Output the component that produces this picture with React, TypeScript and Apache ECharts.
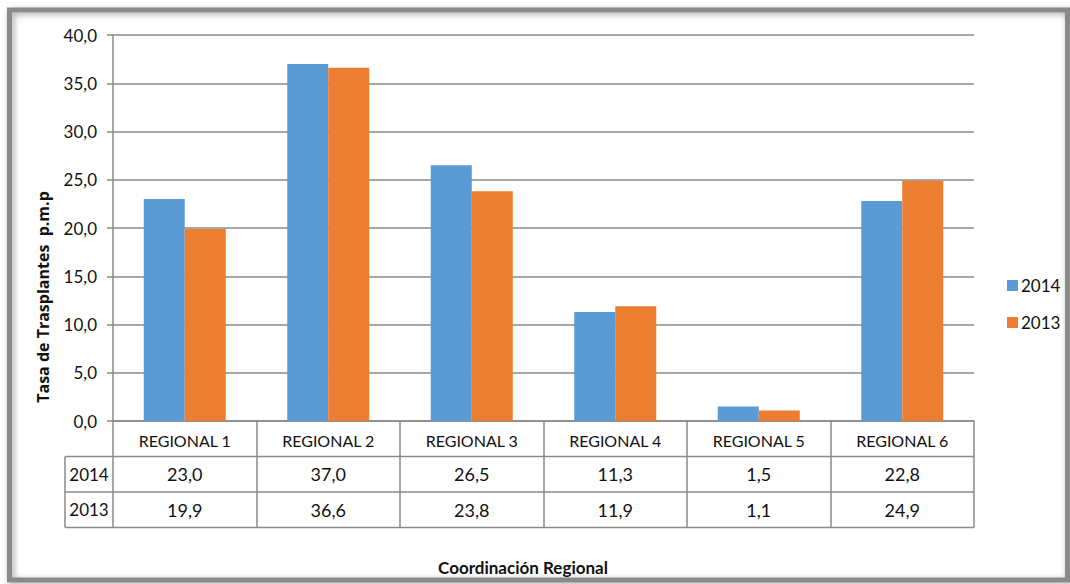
import React, { useEffect, useRef } from "react";
import * as echarts from "echarts";

const categories = ["REGIONAL 1", "REGIONAL 2", "REGIONAL 3", "REGIONAL 4", "REGIONAL 5", "REGIONAL 6"];
const seriesNames = ["2014", "2013"];
const values2014 = [23.0, 37.0, 26.5, 11.3, 1.5, 22.8];
const values2013 = [19.9, 36.6, 23.8, 11.9, 1.1, 24.9];
const colors = ["#5B9BD5", "#ED7D31"];

const W = 1070;
const H = 584;
const GL = 113;
const GR = 974;
const GT = 35;
const GB = 421;
const ROW = 35.5;
const FONT = "Lato, 'Open Sans', sans-serif";
const fmt = (v: number) => v.toFixed(1).replace(".", ",");

export default function App() {
  const ref = useRef<HTMLDivElement>(null);
  useEffect(() => {
    document.body.style.margin = "0";
    const chart = echarts.init(ref.current!, null, { renderer: "svg" });
    const colW = (GR - GL) / categories.length;
    const rows = [values2014, values2013];
    const lineStyle = { stroke: "#8a8a8a", lineWidth: 1.5 };
    const graphics: any[] = [
      {
        type: "rect",
        shape: { x: 9.5, y: 10, width: 1058, height: 570 },
        style: { fill: "none", stroke: "#8a8a8a", lineWidth: 5, shadowBlur: 6, shadowColor: "rgba(0,0,0,0.35)", shadowOffsetX: 2, shadowOffsetY: 2 },
        z: 10,
      },
      { type: "line", shape: { x1: 65, y1: GB + ROW, x2: GR, y2: GB + ROW }, style: lineStyle },
      { type: "line", shape: { x1: 65, y1: GB + 2 * ROW, x2: GR, y2: GB + 2 * ROW }, style: lineStyle },
      { type: "line", shape: { x1: 65, y1: GB + ROW, x2: 65, y2: GB + 3 * ROW }, style: lineStyle },
      { type: "line", shape: { x1: 65, y1: GB + 3 * ROW, x2: GR, y2: GB + 3 * ROW }, style: lineStyle },
      {
        type: "text",
        x: 43,
        y: 297,
        rotation: Math.PI / 2,
        style: { text: "Tasa de Trasplantes  p.m.p", font: `bold 16px 'Open Sans', sans-serif`, fill: "#111", align: "center", verticalAlign: "middle" },
      },
      {
        type: "text",
        x: 523,
        y: 567,
        style: { text: "Coordinación Regional", font: `bold 17px ${FONT}`, fill: "#111", align: "center", verticalAlign: "middle" },
      },
    ];
    rows.forEach((vals, r) => {
      const cy = GB + ROW * (r + 1) + ROW / 2;
      graphics.push({
        type: "text",
        x: 89,
        y: cy,
        style: { text: seriesNames[r], font: `17px ${FONT}`, fill: "#111", align: "center", verticalAlign: "middle" },
      });
      vals.forEach((v, i) => {
        graphics.push({
          type: "text",
          x: GL + colW * (i + 0.5),
          y: cy,
          style: { text: fmt(v), font: `18px ${FONT}`, fill: "#111", align: "center", verticalAlign: "middle" },
        });
      });
    });

    chart.setOption({
      animation: false,
      backgroundColor: "#fff",
      grid: { left: GL, right: W - GR, top: GT, bottom: H - GB, containLabel: false },
      legend: {
        orient: "vertical",
        left: 1002,
        top: 272,
        itemWidth: 11,
        itemHeight: 11,
        itemGap: 20,
        icon: "rect",
        textStyle: { fontSize: 17, fontFamily: FONT, color: "#111", padding: [0, 0, 0, -2] },
        data: seriesNames,
      },
      xAxis: {
        type: "category",
        data: categories,
        axisLine: { show: true, lineStyle: { color: "#8a8a8a", width: 1.5 } },
        axisTick: { show: true, length: 3 * ROW, lineStyle: { color: "#8a8a8a", width: 1.5 } },
        axisLabel: { margin: 11, fontSize: 16, fontFamily: FONT, color: "#111" },
      },
      yAxis: {
        type: "value",
        min: 0,
        max: 40,
        interval: 5,
        axisLine: { show: true, lineStyle: { color: "#8a8a8a", width: 1.5 } },
        axisTick: { show: true, length: 6, lineStyle: { color: "#8a8a8a", width: 1.5 } },
        axisLabel: { margin: 16, fontSize: 17, fontFamily: FONT, color: "#111", formatter: (v: number) => fmt(v) },
        splitLine: { show: true, lineStyle: { color: "#8a8a8a", width: 1.5 } },
      },
      series: [
        { name: seriesNames[0], type: "bar", data: values2014, barWidth: 41, barGap: "0%", itemStyle: { color: colors[0] } },
        { name: seriesNames[1], type: "bar", data: values2013, barWidth: 41, barGap: "0%", itemStyle: { color: colors[1] } },
      ],
      graphic: graphics,
    });
    return () => chart.dispose();
  }, []);
  return <div ref={ref} style={{ position: "fixed", left: 0, top: 0, width: W, height: H }} />;
}
